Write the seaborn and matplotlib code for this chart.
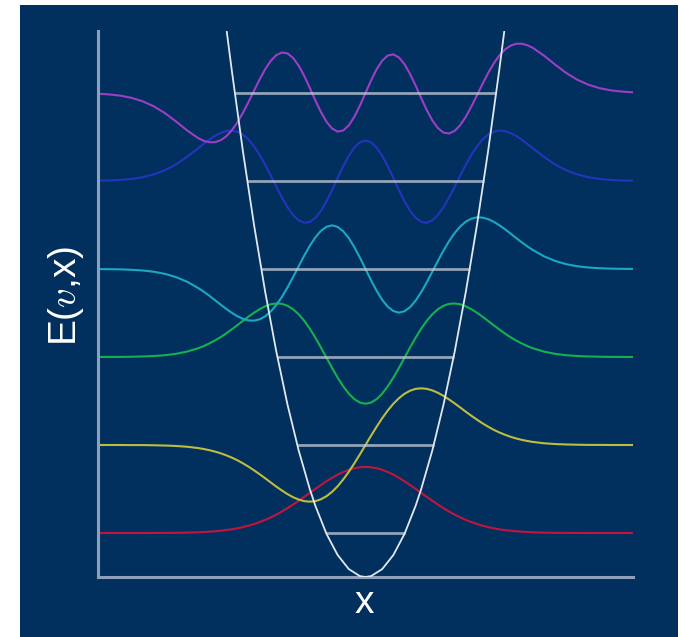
import matplotlib
matplotlib.use("Agg")
import numpy as np
import pandas as pd
import matplotlib.pyplot as plt
import seaborn as sns
from matplotlib.patches import Rectangle


# ── Data ───────────────────────────────────────────────────────────────────────

q = [
    -4.8, -4.6, -4.4, -4.2, -4.0, -3.8, -3.6, -3.4, -3.2, -3.0,
    -2.9, -2.8, -2.7, -2.6, -2.5, -2.4, -2.3, -2.2, -2.1, -2.0,
    -1.9, -1.8, -1.7, -1.6, -1.5, -1.4, -1.3, -1.2, -1.1, -1.0,
    -0.9, -0.8, -0.7, -0.6, -0.5, -0.4, -0.3, -0.2, -0.1, 0.0,
    0.1, 0.2, 0.3, 0.4, 0.5, 0.6, 0.7, 0.8, 0.9, 1.0,
    1.1, 1.2, 1.3, 1.4, 1.5, 1.6, 1.7, 1.8, 1.9, 2.0,
    2.1, 2.2, 2.3, 2.4, 2.5, 2.6, 2.7, 2.8, 2.9, 3.0,
    3.2, 3.4, 3.6, 3.8, 4.0, 4.2, 4.4, 4.6, 4.8,
]

psi_0 = [
    0.000, 0.000, 0.000, 0.000, 0.000, 0.001, 0.001, 0.002, 0.004, 0.008,
    0.011, 0.015, 0.020, 0.026, 0.033, 0.042, 0.053, 0.067, 0.083, 0.102,
    0.124, 0.149, 0.177, 0.209, 0.244, 0.282, 0.323, 0.366, 0.410, 0.456,
    0.501, 0.545, 0.588, 0.627, 0.663, 0.693, 0.718, 0.736, 0.747, 0.751,
    0.747, 0.736, 0.718, 0.693, 0.663, 0.627, 0.588, 0.545, 0.501, 0.456,
    0.410, 0.366, 0.323, 0.282, 0.244, 0.209, 0.177, 0.149, 0.124, 0.102,
    0.083, 0.067, 0.053, 0.042, 0.033, 0.026, 0.020, 0.015, 0.011, 0.008,
    0.004, 0.002, 0.001, 0.001, 0.000, 0.000, 0.000, 0.000, 0.000,
]

psi_1 = [
    0.000, 0.000, 0.000, -0.001, -0.001, -0.003, -0.006, -0.011, -0.020, -0.035,
    -0.046, -0.059, -0.075, -0.094, -0.117, -0.143, -0.173, -0.208, -0.246, -0.288,
    -0.332, -0.378, -0.426, -0.473, -0.517, -0.558, -0.593, -0.620, -0.638, -0.644,
    -0.638, -0.617, -0.582, -0.532, -0.469, -0.392, -0.305, -0.208, -0.106, 0.000,
    0.106, 0.208, 0.305, 0.392, 0.469, 0.532, 0.582, 0.617, 0.638, 0.644,
    0.638, 0.620, 0.593, 0.558, 0.517, 0.473, 0.426, 0.378, 0.332, 0.288,
    0.246, 0.208, 0.173, 0.143, 0.117, 0.094, 0.075, 0.059, 0.046, 0.035,
    0.020, 0.011, 0.006, 0.003, 0.001, 0.001, 0.000, 0.000, 0.000,
]

psi_2 = [
    0.000, 0.001, 0.001, 0.003, 0.006, 0.011, 0.020, 0.036, 0.062, 0.100,
    0.125, 0.155, 0.188, 0.226, 0.268, 0.314, 0.361, 0.410, 0.458, 0.503,
    0.543, 0.576, 0.599, 0.608, 0.604, 0.582, 0.543, 0.486, 0.412, 0.322,
    0.220, 0.108, -0.008, -0.124, -0.234, -0.333, -0.416, -0.479, -0.518, -0.531,
    -0.518, -0.479, -0.416, -0.333, -0.234, -0.124, -0.008, 0.108, 0.220, 0.322,
    0.412, 0.486, 0.543, 0.582, 0.604, 0.608, 0.599, 0.576, 0.543, 0.503,
    0.458, 0.410, 0.361, 0.314, 0.268, 0.226, 0.188, 0.155, 0.125, 0.100,
    0.062, 0.036, 0.020, 0.011, 0.006, 0.003, 0.001, 0.001, 0.000,
]

psi_3 = [
    -0.001, -0.002, -0.004, -0.009, -0.017, -0.031, -0.055, -0.092, -0.145, -0.217,
    -0.259, -0.305, -0.354, -0.404, -0.453, -0.498, -0.537, -0.567, -0.584, -0.587,
    -0.572, -0.538, -0.483, -0.409, -0.317, -0.210, -0.092, 0.030, 0.151, 0.263,
    0.359, 0.433, 0.480, 0.496, 0.478, 0.429, 0.351, 0.248, 0.129, 0.000,
    -0.129, -0.248, -0.351, -0.429, -0.478, -0.496, -0.480, -0.433, -0.359, -0.263,
    -0.151, -0.030, 0.092, 0.210, 0.317, 0.409, 0.483, 0.538, 0.572, 0.587,
    0.584, 0.567, 0.537, 0.498, 0.453, 0.404, 0.354, 0.305, 0.259, 0.217,
    0.145, 0.092, 0.055, 0.031, 0.017, 0.009, 0.004, 0.002, 0.001,
]

psi_4 = [
    0.003, 0.006, 0.012, 0.023, 0.043, 0.075, 0.122, 0.189, 0.275, 0.373,
    0.423, 0.471, 0.513, 0.546, 0.568, 0.573, 0.560, 0.527, 0.471, 0.394,
    0.298, 0.185, 0.062, -0.064, -0.187, -0.297, -0.386, -0.447, -0.474, -0.465,
    -0.419, -0.339, -0.230, -0.103, 0.034, 0.167, 0.286, 0.380, 0.439, 0.460,
    0.439, 0.380, 0.286, 0.167, 0.034, -0.103, -0.230, -0.339, -0.419, -0.465,
    -0.474, -0.447, -0.386, -0.297, -0.187, -0.064, 0.062, 0.185, 0.298, 0.394,
    0.471, 0.527, 0.560, 0.573, 0.568, 0.546, 0.513, 0.471, 0.423, 0.373,
    0.275, 0.189, 0.122, 0.075, 0.043, 0.023, 0.012, 0.006, 0.003,
]

psi_5 = [
    -0.008, -0.016, -0.030, -0.055, -0.094, -0.151, -0.228, -0.324, -0.426, -0.514,
    -0.544, -0.560, -0.559, -0.537, -0.493, -0.425, -0.335, -0.226, -0.103, 0.026,
    0.154, 0.270, 0.365, 0.431, 0.460, 0.450, 0.399, 0.312, 0.195, 0.059,
    -0.083, -0.216, -0.327, -0.404, -0.439, -0.426, -0.368, -0.270, -0.143, 0.000,
    0.143, 0.270, 0.368, 0.426, 0.439, 0.404, 0.327, 0.216, 0.083, -0.059,
    -0.195, -0.312, -0.399, -0.450, -0.460, -0.431, -0.365, -0.270, -0.154, -0.026,
    0.103, 0.226, 0.335, 0.425, 0.493, 0.537, 0.559, 0.560, 0.544, 0.514,
    0.426, 0.324, 0.228, 0.151, 0.094, 0.055, 0.030, 0.016, 0.008,
]

# energy levels (hbar*omega units) and half-width of each level line
levels = [0.5, 1.5, 2.5, 3.5, 4.5, 5.5]
level_half = [0.707, 1.225, 1.581, 1.871, 2.121, 2.345]

# potential well
well_q = [-2.49, -2.4, -2.2, -2.0, -1.8, -1.6, -1.4, -1.2, -1.0, -0.9, -0.7,
          -0.5, -0.3, -0.1, 0.0, 0.1, 0.3, 0.5, 0.7, 0.9, 1.0, 1.2, 1.4, 1.6,
          1.8, 2.0, 2.2, 2.4, 2.49]
well_E = [6.20, 5.76, 4.84, 4.00, 3.24, 2.56, 1.96, 1.44, 1.00, 0.81, 0.49,
          0.25, 0.09, 0.01, 0.00, 0.01, 0.09, 0.25, 0.49, 0.81, 1.00, 1.44, 1.96, 2.56,
          3.24, 4.00, 4.84, 5.76, 6.20]

states = ["v0", "v1", "v2", "v3", "v4", "v5"]
wave_colors = ["#c2153e", "#bdbe3f", "#15b04f", "#1aa8c3", "#2434bc", "#9c3ec6"]

BG = "#01305e"
AXIS = "#8d9fbb"
LEVEL = "#c3cad6"
WELL = "#e2e8f0"

# ── Figure ─────────────────────────────────────────────────────────────────────

sns.set_style("white")
plt.rcParams["font.family"] = ["Liberation Sans", "DejaVu Sans"]
plt.rcParams["mathtext.fontset"] = "cm"

fig = plt.figure(figsize=(6.81, 6.37), dpi=100, facecolor="white")
fig.patches.append(Rectangle((20 / 681, 0), 658 / 681, 632 / 637,
                             transform=fig.transFigure, facecolor=BG,
                             edgecolor="none", zorder=-10))

ax = fig.add_axes([98 / 681, 60 / 637, 535 / 681, 545.6 / 637])
ax.set_facecolor("none")

frames = []
for name, E0, psi in zip(states, levels,
                         [psi_0, psi_1, psi_2, psi_3, psi_4, psi_5]):
    frames.append(pd.DataFrame({"q": q, "E": np.array(psi) + E0, "state": name}))
waves = pd.concat(frames, ignore_index=True)

sns.lineplot(data=waves, x="q", y="E", hue="state",
             palette=dict(zip(states, wave_colors)),
             estimator=None, sort=False, linewidth=1.5, legend=False, ax=ax,
             zorder=2)

ax.hlines(levels, [-h for h in level_half], level_half,
          colors=LEVEL, linewidth=2.0, alpha=0.75, zorder=3)

sns.lineplot(x=well_q, y=well_E, color=WELL, linewidth=1.3,
             estimator=None, sort=False, ax=ax, zorder=4)

ax.set_xlim(-4.8, 4.8)
ax.set_ylim(0, 6.2)
ax.set_xticks([])
ax.set_yticks([])
ax.set_xlabel("")
ax.set_ylabel("")
for side in ["top", "right"]:
    ax.spines[side].set_visible(False)
for side in ["left", "bottom"]:
    ax.spines[side].set_color(AXIS)
    ax.spines[side].set_linewidth(2.2)

fig.text(66 / 681, 1 - 296 / 637, r"E($v$,x)", rotation=90, color="white",
         fontsize=28, ha="center", va="center")
fig.text(364 / 681, 1 - 603 / 637, "x", color="white",
         fontsize=28, ha="center", va="center")

fig.savefig("out.png", dpi=100, facecolor=fig.get_facecolor())
